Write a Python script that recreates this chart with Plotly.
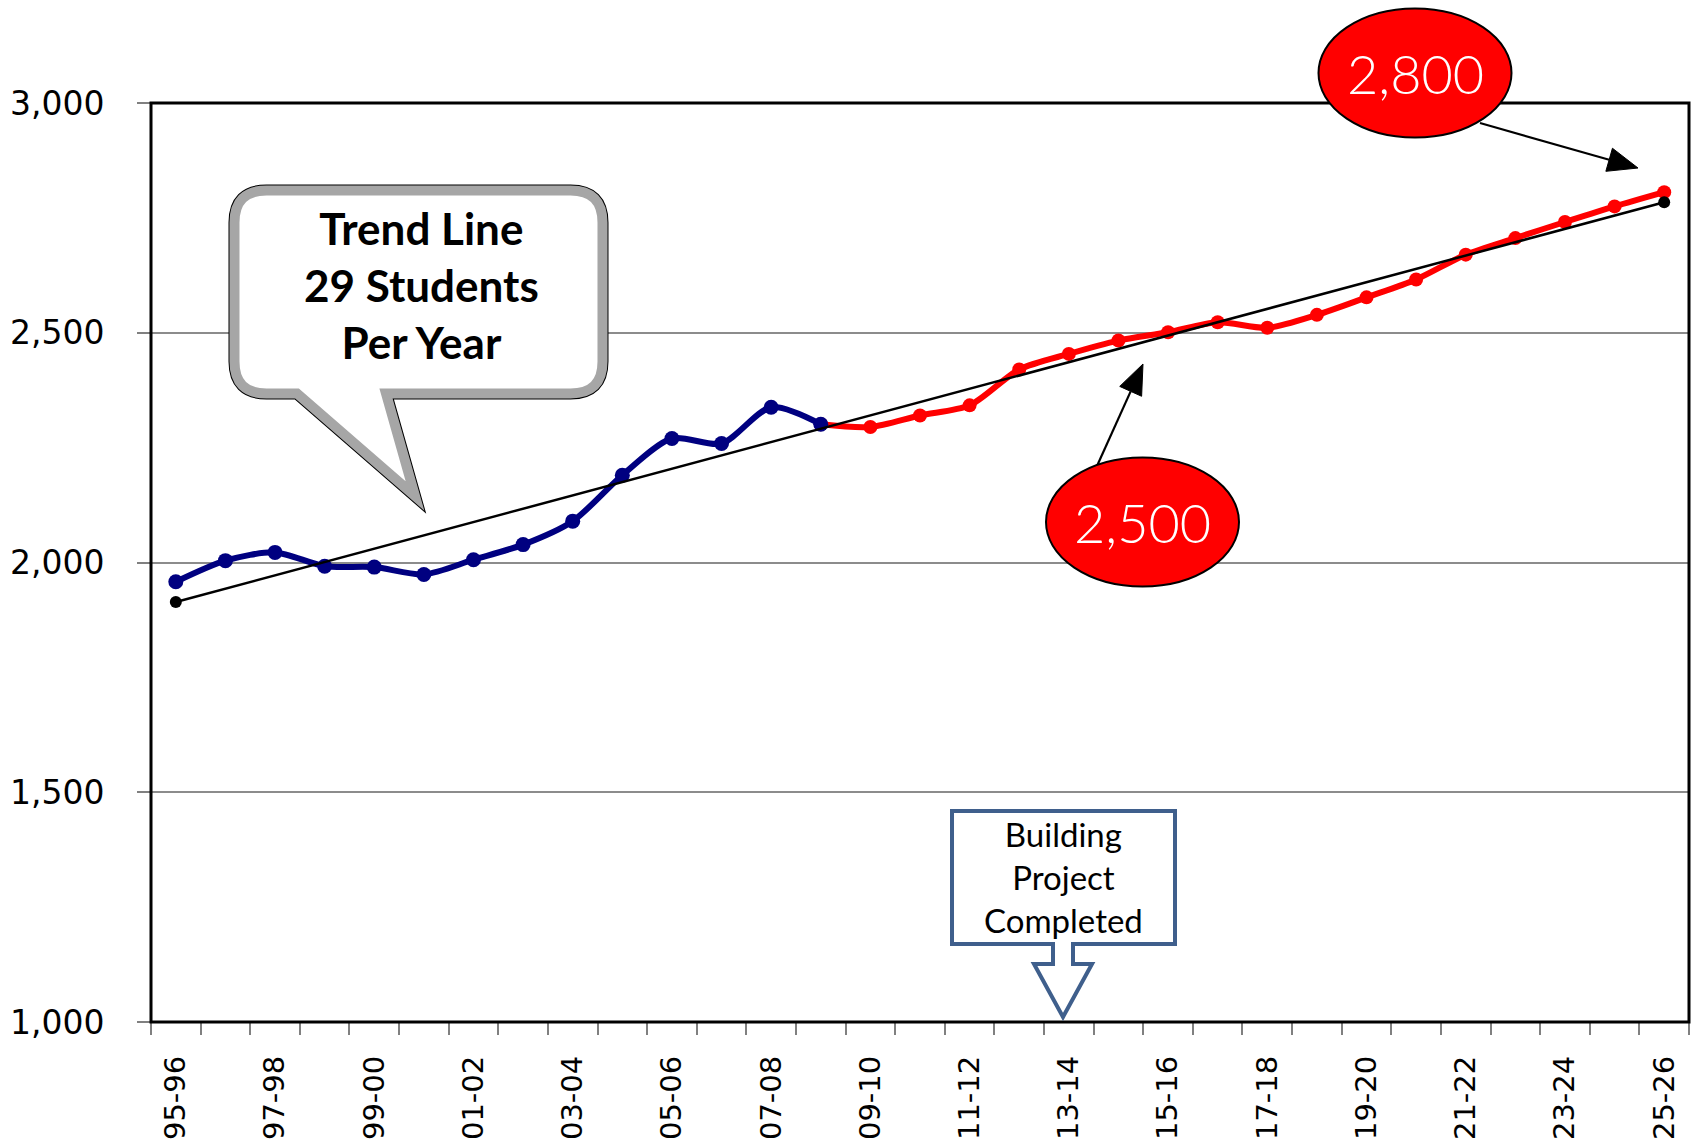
import plotly.graph_objects as go
import math

# ---------------- data ----------------
categories = ["95-96", "96-97", "97-98", "98-99", "99-00", "00-01", "01-02", "02-03",
              "03-04", "04-05", "05-06", "06-07", "07-08", "08-09", "09-10", "10-11",
              "11-12", "12-13", "13-14", "14-15", "15-16", "16-17", "17-18", "18-19",
              "19-20", "20-21", "21-22", "22-23", "23-24", "24-25", "25-26"]
actual_enrollment = [1958, 2004, 2022, 1992, 1990, 1974, 2006, 2039, 2090, 2190,
                     2270, 2259, 2338, 2301]                      # 95-96 .. 08-09
projected_enrollment = [2301, 2295, 2320, 2342, 2420, 2454, 2483, 2501, 2523, 2511,
                        2539, 2577, 2616, 2670, 2706, 2741, 2775, 2806]   # 08-09 .. 25-26
trend_values = [1914, 2784]                                       # 95-96 and 25-26
y_ticks = [1000, 1500, 2000, 2500, 3000]

idx = list(range(len(categories)))
x_actual = idx[:len(actual_enrollment)]
x_proj = idx[len(actual_enrollment) - 1:]
x_trend = [idx[0], idx[-1]]

# ---------------- layout geometry (pixels) ----------------
W, H = 1692, 1147
ML, MR, MT, MB = 151, 3, 103, 125
L, R, T, B = ML, W - MR, MT, H - MB


def px(x):
    return (x - L) / (R - L)


def py(y):
    return (B - y) / (B - T)


def path_from(points, close=True):
    s = "M " + " L ".join(f"{px(x):.5f},{py(y):.5f}" for x, y in points)
    return s + (" Z" if close else "")


def rounded_bubble(l, t, r, b, rad, tail):
    tl, tip, tr = tail
    P = lambda x, y: f"{px(x):.5f},{py(y):.5f}"
    s = f"M {P(l + rad, t)} L {P(r - rad, t)} Q {P(r, t)} {P(r, t + rad)} "
    s += f"L {P(r, b - rad)} Q {P(r, b)} {P(r - rad, b)} "
    s += f"L {P(tr, b)} L {P(*tip)} L {P(tl, b)} "
    s += f"L {P(l + rad, b)} Q {P(l, b)} {P(l, b - rad)} "
    s += f"L {P(l, t + rad)} Q {P(l, t)} {P(l + rad, t)} Z"
    return s


def arrow_shapes(x0, y0, x1, y1, headlen=30, headw=24, width=2.2):
    dx, dy = x1 - x0, y1 - y0
    d = math.hypot(dx, dy)
    ux, uy = dx / d, dy / d
    bx, by = x1 - ux * headlen, y1 - uy * headlen
    nx, ny = -uy, ux
    line = dict(type="path", xref="paper", yref="paper",
                path=path_from([(x0, y0), (bx, by)], close=False),
                line=dict(color="black", width=width))
    head = dict(type="path", xref="paper", yref="paper",
                path=path_from([(x1, y1), (bx + nx * headw / 2, by + ny * headw / 2),
                                (bx - nx * headw / 2, by - ny * headw / 2)]),
                fillcolor="black", line=dict(color="black", width=1))
    return [line, head]


fig = go.Figure()

fig.add_trace(go.Scatter(
    x=x_proj, y=projected_enrollment, mode="lines+markers",
    line=dict(color="#FF0000", width=6, shape="spline", smoothing=0.8),
    marker=dict(color="#FF0000", size=14), showlegend=False))

fig.add_trace(go.Scatter(
    x=x_actual, y=actual_enrollment, mode="lines+markers",
    line=dict(color="#000080", width=6, shape="spline", smoothing=0.8),
    marker=dict(color="#000080", size=15), showlegend=False))

fig.add_trace(go.Scatter(
    x=x_trend, y=trend_values, mode="lines+markers",
    line=dict(color="black", width=2.5),
    marker=dict(color="black", size=12), showlegend=False))

shapes = []
shapes.append(dict(type="rect", xref="paper", yref="paper", x0=0, x1=1, y0=0, y1=1,
                   line=dict(color="black", width=3), layer="above"))

bub = rounded_bubble(234.5, 190.5, 602.5, 393.5, 32, (297, (415, 496), 386))
shapes.append(dict(type="path", xref="paper", yref="paper", path=bub,
                   line=dict(color="black", width=12)))
shapes.append(dict(type="path", xref="paper", yref="paper", path=bub,
                   fillcolor="white", line=dict(color="#a6a6a6", width=10)))

callout = [(952, 811), (1175, 811), (1175, 944), (1073, 944), (1073, 964), (1092, 964),
           (1063, 1017), (1034, 964), (1053, 964), (1053, 944), (952, 944)]
shapes.append(dict(type="path", xref="paper", yref="paper", path=path_from(callout),
                   fillcolor="white", line=dict(color="#3f5f8c", width=4)))

shapes += arrow_shapes(1097, 466, 1143, 364)
shapes += arrow_shapes(1480, 123, 1638, 168)

for cx, cy in [(1142.5, 522), (1415, 73)]:
    shapes.append(dict(type="circle", xref="paper", yref="paper",
                       x0=px(cx - 96.5), x1=px(cx + 96.5), y0=py(cy + 64.5), y1=py(cy - 64.5),
                       fillcolor="#FF0000", line=dict(color="black", width=2)))

annotations = [
    dict(xref="paper", yref="paper", x=px(421), y=py(285), xanchor="center", yanchor="middle",
         text="<b>Trend Line<br>29 Students<br>Per Year</b>", showarrow=False,
         font=dict(family="Lato", size=44, color="black")),
    dict(xref="paper", yref="paper", x=px(1063), y=py(877), xanchor="center", yanchor="middle",
         text="Building<br>Project<br>Completed", showarrow=False,
         font=dict(family="Lato", size=33, color="black")),
    dict(xref="paper", yref="paper", x=px(1142.5), y=py(522), xanchor="center", yanchor="middle",
         text="2,500", showarrow=False,
         font=dict(family="Lato", size=54, color="white", weight=300)),
    dict(xref="paper", yref="paper", x=px(1415), y=py(73), xanchor="center", yanchor="middle",
         text="2,800", showarrow=False,
         font=dict(family="Lato", size=54, color="white", weight=300)),
]

fig.update_layout(
    width=W, height=H,
    margin=dict(l=ML, r=MR, t=MT, b=MB, pad=0, autoexpand=False),
    paper_bgcolor="white", plot_bgcolor="white",
    shapes=shapes, annotations=annotations,
    showlegend=False,
    xaxis=dict(
        range=[-0.5, len(categories) - 0.5], automargin=False,
        tickmode="array", tickvals=idx[::2], ticktext=categories[::2],
        tickangle=-90, ticks="", showgrid=False, zeroline=False, showline=False,
        ticklabelstandoff=27,
        tickfont=dict(family="DejaVu Sans", size=29, color="black"),
        minor=dict(tickmode="array", tickvals=[i - 0.5 for i in range(len(categories) + 1)],
                   ticks="outside", ticklen=12, tickwidth=2, tickcolor="#808080",
                   showgrid=False),
    ),
    yaxis=dict(
        range=[1000, 3000], automargin=False,
        tickmode="array", tickvals=y_ticks, tickformat=",",
        ticks="outside", ticklen=13, tickwidth=2, tickcolor="#808080",
        showgrid=True, gridcolor="#8c8c8c", gridwidth=1.5,
        zeroline=False, showline=False,
        ticklabelstandoff=26,
        tickfont=dict(family="DejaVu Sans", size=33, color="black"),
    ),
)

fig.write_html("out.html", config={"displayModeBar": False},
               post_script="document.body.style.margin='0';")
